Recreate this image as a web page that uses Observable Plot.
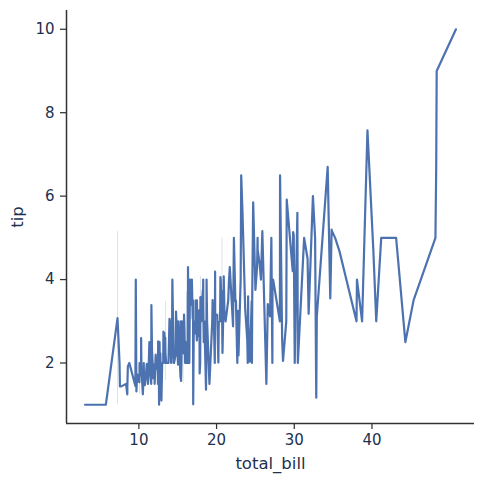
<!DOCTYPE html>
<html><head><meta charset="utf-8">
<script src="https://cdn.jsdelivr.net/npm/d3@7"></script>
<script src="https://cdn.jsdelivr.net/npm/@observablehq/plot@0.6"></script>
<style>body{margin:0;background:#fff}</style>
</head><body><div id="chart"></div>
<script>
const totalBill = [16.99,10.34,21.01,23.68,24.59,25.29,8.77,26.88,15.04,14.78,10.27,35.26,15.42,18.43,14.83,21.58,10.33,16.29,16.97,20.65,17.92,20.29,15.77,39.42,19.82,17.81,13.37,12.69,21.70,19.65,9.55,18.35,15.06,20.69,17.78,24.06,16.31,16.93,18.69,31.27,16.04,17.46,13.94,9.68,30.40,18.29,22.23,32.40,28.55,18.04,12.54,10.29,34.81,9.94,25.56,19.49,38.01,26.41,11.24,48.27,20.29,13.81,11.02,18.29,17.59,20.08,16.45,3.07,20.23,15.01,12.02,17.07,26.86,25.28,14.73,10.51,17.92,27.20,22.76,17.29,19.44,16.66,10.07,32.68,15.98,34.83,13.03,18.28,24.71,21.16,28.97,22.49,5.75,16.32,22.75,40.17,27.28,12.03,21.01,12.46,11.35,15.38,44.30,22.42,20.92,15.36,20.49,25.21,18.24,14.31,14.00,7.25,38.07,23.95,25.71,17.31,29.93,10.65,12.43,24.08,11.69,13.42,14.26,15.95,12.48,29.80,8.52,14.52,11.38,22.82,19.08,20.27,11.17,12.26,18.26,8.51,10.33,14.15,16.00,13.16,17.47,34.30,41.19,27.05,16.43,8.35,18.64,11.87,9.78,7.51,14.07,13.13,17.26,24.55,19.77,29.85,48.17,25.00,13.39,16.49,21.50,12.66,16.21,13.81,17.51,24.52,20.76,31.71,10.59,10.63,50.81,15.81,7.25,31.85,16.82,32.90,17.89,14.48,9.60,34.63,34.65,23.33,45.35,23.17,40.55,20.69,20.90,30.46,18.15,23.10,15.69,19.81,28.44,15.48,16.58,7.56,10.34,43.11,13.00,13.51,18.71,12.74,13.00,16.40,20.53,16.47,26.59,38.73,24.27,12.76,30.06,25.89,48.33,13.27,28.17,12.90,28.15,11.59,7.74,30.14,12.16,13.42,8.58,15.98,13.42,16.27,10.09,20.45,13.28,22.12,24.01,15.69,11.61,10.77,15.53,10.07,12.60,32.83,35.83,29.03,27.18,22.67,17.82,18.78];
const tip = [1.01,1.66,3.50,3.31,3.61,4.71,2.00,3.12,1.96,3.23,1.71,5.00,1.57,3.00,3.02,3.92,1.67,3.71,3.50,3.35,4.08,2.75,2.23,7.58,3.18,2.34,2.00,2.00,4.30,3.00,1.45,2.50,3.00,2.45,3.27,3.60,2.00,3.07,2.31,5.00,2.24,2.54,3.06,1.32,5.60,3.00,5.00,6.00,2.05,3.00,2.50,2.60,5.20,1.56,4.34,3.51,3.00,1.50,1.76,6.73,3.21,2.00,1.98,3.76,2.64,3.15,2.47,1.00,2.01,2.09,1.97,3.00,3.14,5.00,2.20,1.25,3.08,4.00,3.00,2.71,3.00,3.40,1.83,5.00,2.03,5.17,2.00,4.00,5.85,3.00,3.00,3.50,1.00,4.30,3.25,4.73,4.00,1.50,3.00,1.50,2.50,3.00,2.50,3.48,4.08,1.64,4.06,4.29,3.76,4.00,3.00,1.00,4.00,2.55,4.00,3.50,5.07,1.50,1.80,2.92,2.31,1.68,2.50,2.00,2.52,4.20,1.48,2.00,2.00,2.18,1.50,2.83,1.50,2.00,3.25,1.25,2.00,2.00,2.00,2.75,3.50,6.70,5.00,5.00,2.30,1.50,1.36,1.63,1.73,2.00,2.50,2.00,2.74,2.00,2.00,5.14,5.00,3.75,2.61,2.00,3.50,2.50,2.00,2.00,3.00,3.48,2.24,4.50,1.61,2.00,10.00,3.16,5.15,3.18,4.00,3.11,2.00,2.00,4.00,3.55,3.68,5.65,3.50,6.50,3.00,5.00,3.50,2.00,3.50,4.00,1.50,4.19,2.56,2.02,4.00,1.44,2.00,5.00,2.00,2.00,4.00,2.01,2.00,2.50,4.00,3.23,3.41,3.00,2.03,2.23,2.00,5.16,9.00,2.50,6.50,1.10,3.00,1.50,1.44,3.09,2.20,3.48,1.92,3.00,1.58,2.50,2.00,3.00,2.72,2.88,2.00,3.00,3.39,1.47,3.00,1.25,1.00,1.17,4.67,5.92,2.00,2.00,1.75,3.00];
const xTicks = [10, 20, 30, 40];
const yTicks = [2, 4, 6, 8, 10];

const rows = totalBill.map((b, i) => ({total_bill: b, tip: tip[i]}));
const grouped = d3.rollups(rows, v => ({n: v.length, mean: d3.mean(v, d => d.tip), lo: d3.min(v, d => d.tip), hi: d3.max(v, d => d.tip)}), d => d.total_bill)
  .map(([x, g]) => ({total_bill: x, ...g}))
  .sort((a, b) => a.total_bill - b.total_bill);
const bands = grouped.filter(g => g.n > 1);

const ink = "#22304f";
const chart = Plot.plot({
  width: 484, height: 484,
  marginLeft: 66, marginRight: 10, marginTop: 10, marginBottom: 61,
  style: {fontFamily: "DejaVu Sans", fontSize: "15px", color: ink, background: "#fff"},
  x: {domain: [0.683, 53.197], label: null},
  y: {domain: [0.55, 10.45], label: null},
  marks: [
    Plot.ruleX(bands, {x: "total_bill", y1: "lo", y2: "hi", stroke: "#4c72b0", strokeOpacity: 0.25, strokeWidth: 0.8}),
    Plot.line(grouped, {x: "total_bill", y: "mean", stroke: "#4c72b0", strokeWidth: 2.2}),
    Plot.axisX({ticks: xTicks, tickSize: 6, tickPadding: 5, stroke: "#333", strokeWidth: 1.25, label: null, fontSize: 15, fill: ink}),
    Plot.axisY({ticks: yTicks, tickSize: 6, tickPadding: 6, stroke: "#333", strokeWidth: 1.25, label: null, fontSize: 15, fill: ink}),
    Plot.ruleY([0.55], {stroke: "#333", strokeWidth: 1.5}),
    Plot.ruleX([0.683], {stroke: "#333", strokeWidth: 1.5}),
    Plot.text(["total_bill"], {frameAnchor: "bottom", dy: 45, fontSize: 16.5, fill: ink}),
    Plot.text(["tip"], {frameAnchor: "left", textAnchor: "middle", dx: -49, rotate: -90, fontSize: 16.5, fill: ink})
  ]
});
document.getElementById("chart").appendChild(chart);
</script>
</body></html>
